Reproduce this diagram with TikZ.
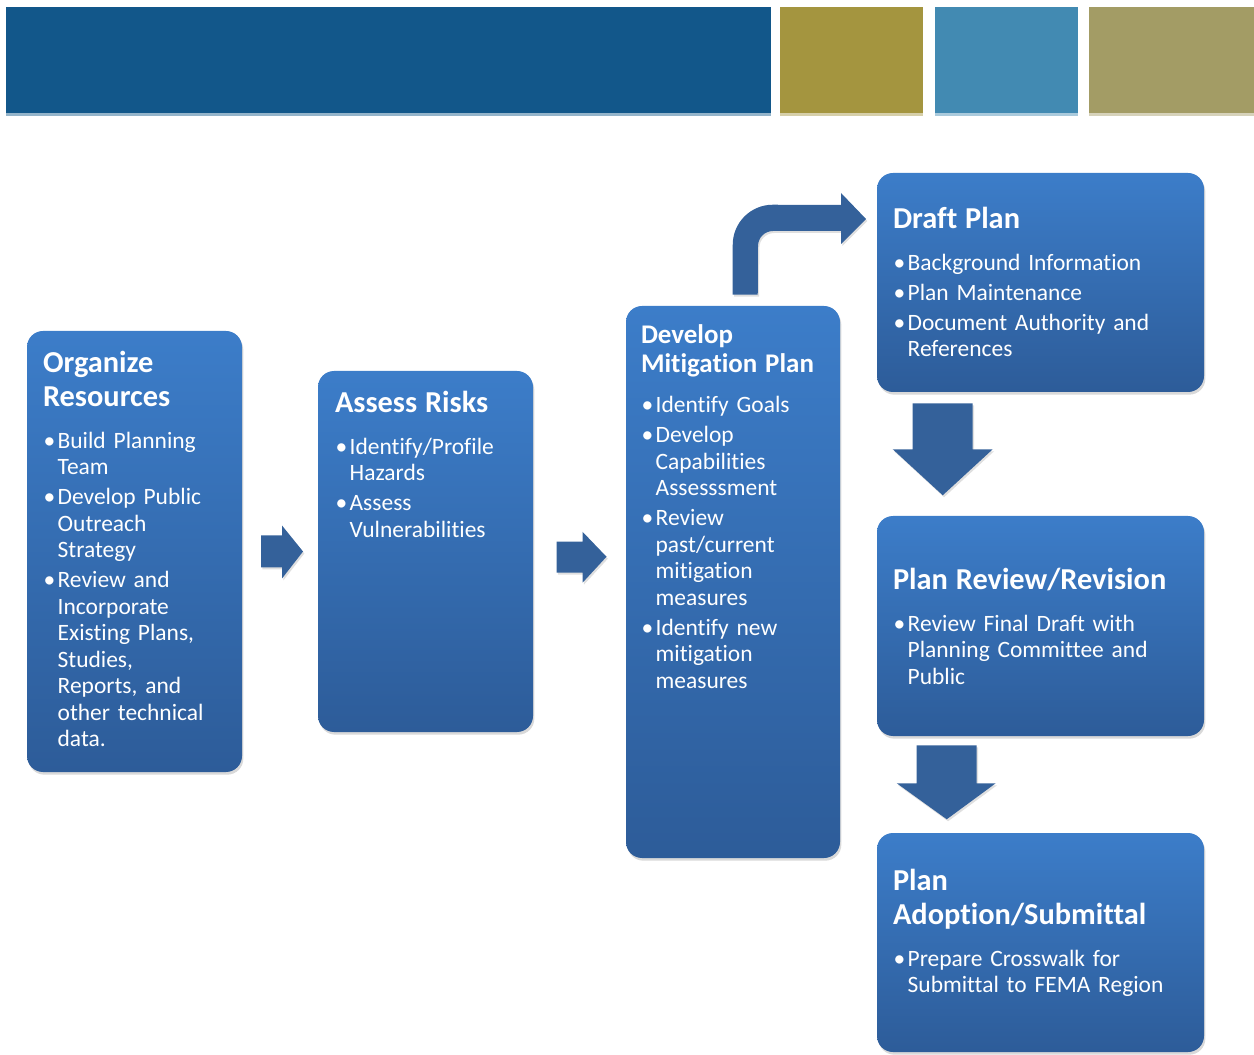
\documentclass[tikz,border=0pt]{standalone}
\usepackage{fontspec}
\setmainfont[Ligatures=NoCommon]{Carlito}
\usetikzlibrary{positioning,fit,calc,shadows}

\definecolor{bannerblue}{HTML}{12578A}
\definecolor{bannerolive}{HTML}{A4953F}
\definecolor{bannersky}{HTML}{428AB2}
\definecolor{bannerkhaki}{HTML}{A39C65}
\definecolor{boxtop}{HTML}{3C7DC9}
\definecolor{boxbottom}{HTML}{2D5C99}
\definecolor{arrowblue}{HTML}{34619A}

\newcommand{\boxtitle}[1]{{\fontsize{22.8}{25.5}\selectfont\bfseries #1\par}\vspace{8.8pt}}
\newcommand{\boxtitlesm}[1]{{\fontsize{20.2}{21.8}\selectfont\bfseries #1\par}\vspace{7.2pt}}
\newcommand{\bitem}[1]{\par\vspace{2.6pt}\hangindent=11pt\hangafter=1\noindent\makebox[11pt][l]{\hspace{0.5pt}\textbullet}#1\par}

\begin{document}
\begin{tikzpicture}[x=0.75pt,y=-0.75pt,
  procbox/.style={rounded corners=12pt,top color=boxtop,bottom color=boxbottom,
    inner sep=0pt,draw=none,
    drop shadow={shadow xshift=1pt,shadow yshift=-2pt,opacity=0.3}},
  boxtext/.style={anchor=north west,inner sep=0pt,align=left,text=white,
    font=\fontsize{17.6}{19.9}\selectfont},
  blockarrow/.style={fill=arrowblue,
    drop shadow={shadow xshift=1pt,shadow yshift=-1.5pt,opacity=0.25}}]
\useasboundingbox (0,0) rectangle (1254,1055);
% banner across the top
\fill[bannerblue] (6,7) rectangle (771,116);
\fill[bannerolive] (780,7) rectangle (923,116);
\fill[bannersky] (935,7) rectangle (1078,116);
\fill[bannerkhaki] (1089,7) rectangle (1254,116);
\fill[bannerblue!45] (6,113) rectangle (771,116);
\fill[bannerolive!45] (780,113) rectangle (923,116);
\fill[bannersky!45] (935,113) rectangle (1078,116);
\fill[bannerkhaki!45] (1089,113) rectangle (1254,116);
% process boxes
\node[procbox,fit={(27,331) (242,772)}] (org) {};
\node[procbox,fit={(318,371) (533,732)}] (assess) {};
\node[procbox,fit={(626,306) (840,858)}] (develop) {};
\node[procbox,fit={(877,173) (1204,392)}] (draft) {};
\node[procbox,fit={(877,516) (1204,736)}] (review) {};
\node[procbox,fit={(877,833) (1204,1052)}] (adopt) {};
% box texts
\node[boxtext,text width=146pt] (orgtxt) at ($(org.north west)+(16,20)$) {%
  \boxtitle{Organize\newline Resources}
  \bitem{Build Planning\newline Team}
  \bitem{Develop Public\newline Outreach\newline Strategy}
  \bitem{Review and\newline Incorporate\newline Existing Plans,\newline Studies,\newline Reports, and\newline other technical\newline data.}};
\node[boxtext,text width=146pt] (assesstxt) at ($(assess.north west)+(17,20)$) {%
  \boxtitle{Assess Risks}
  \bitem{Identify/Profile\newline Hazards}
  \bitem{Assess\newline Vulnerabilities}};
\node[boxtext,text width=146pt] (developtxt) at ($(develop.north west)+(15,19)$) {%
  \boxtitlesm{Develop\newline Mitigation Plan}
  \bitem{Identify Goals}
  \bitem{Develop\newline Capabilities\newline Assesssment}
  \bitem{Review\newline past/current\newline mitigation\newline measures}
  \bitem{Identify new\newline mitigation\newline measures}};
\node[boxtext,text width=230pt] (drafttxt) at ($(draft.north west)+(16,34)$) {%
  \boxtitle{Draft Plan}
  \bitem{Background Information}
  \bitem{Plan Maintenance}
  \bitem{Document Authority and\newline References}};
\node[boxtext,text width=230pt] (reviewtxt) at ($(review.north west)+(16,52)$) {%
  \boxtitle{Plan Review/Revision}
  \bitem{Review Final Draft with\newline Planning Committee and\newline Public}};
\node[boxtext,text width=230pt] (adopttxt) at ($(adopt.north west)+(16,36)$) {%
  \boxtitle{Plan\newline Adoption/Submittal}
  \bitem{Prepare Crosswalk for\newline Submittal to FEMA Region}};
% block arrows between the boxes
\coordinate (r1) at ($(org.east)!0.5!(assess.west)$);
\fill[blockarrow] (r1) ++(-19,-16) -- ++(21,0) -- ++(0,-10) -- ++(21,26)
  -- ++(-21,27) -- ++(0,-11) -- ++(-21,0) -- cycle;
\coordinate (r2) at ($(assess.east)!0.5!(develop.west)+(0,-10)$);
\fill[blockarrow] (r2) ++(-23,-15) -- ++(26,0) -- ++(0,-10) -- ++(24,25)
  -- ++(-24,26) -- ++(0,-10) -- ++(-26,0) -- cycle;
\coordinate (d1) at ($(draft.south west)+(66,11)$);
\fill[blockarrow] (d1) ++(-30,0) -- ++(60,0) -- ++(0,46) -- ++(20,0)
  -- ++(-50,46) -- ++(-50,-46) -- ++(20,0) -- cycle;
\coordinate (d2) at ($(review.south west)+(70,9)$);
\fill[blockarrow] (d2) ++(-30,0) -- ++(60,0) -- ++(0,38) -- ++(19,0)
  -- ++(-49,36) -- ++(-50,-36) -- ++(20,0) -- cycle;
% bent arrow from the mitigation plan up to the draft plan
\coordinate (c1) at ($(develop.north west)+(107,-11)$);
\fill[blockarrow] (c1) -- ++(0,-50) arc[start angle=180,end angle=270,radius=40]
  -- (841,205) -- (841,193) -- (866,219) -- (841,244) -- (841,231) -- (773,231)
  arc[start angle=270,end angle=180,radius=15] -- ($(c1)+(25,0)$) -- cycle;
\end{tikzpicture}
\end{document}
